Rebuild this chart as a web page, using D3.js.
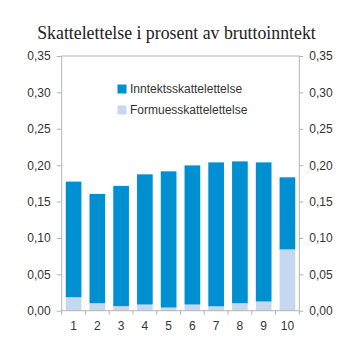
<!DOCTYPE html>
<html><head><meta charset="utf-8">
<script src="https://cdn.jsdelivr.net/npm/d3@7"></script>
<style>body{margin:0;background:#fff}svg{display:block}</style>
</head><body>
<svg id="c" width="353" height="353"></svg>
<script>
const categories = ["1","2","3","4","5","6","7","8","9","10"];
const wealthValues = [0.0185,0.0103,0.0062,0.0085,0.0044,0.0085,0.0060,0.0103,0.0126,0.0842];
const incomeValues = [0.1589,0.1502,0.1653,0.1789,0.1871,0.1912,0.1978,0.1949,0.1912,0.0991];
const seriesNames = ["Inntektsskattelettelse","Formuesskattelettelse"];
const seriesColors = ["#0090d2","#c6d8ef"];
const yTicks = [0,0.05,0.10,0.15,0.20,0.25,0.30,0.35];
const titleText = "Skattelettelse i prosent av bruttoinntekt";

const svg = d3.select("#c");
const L = 61.7, R = 299.3, T = 56, B = 310.7;
const x = d3.scaleBand().domain(categories).range([L,R]).paddingInner(0.34).paddingOuter(0.17);
const y = d3.scaleLinear().domain([0,0.35]).range([B,T]);
const fmt = d => d3.format(".2f")(d).replace(".", ",");
const axisColor = "#b3b3b3";
const textColor = "#333";

svg.append("text").attr("x",176.5).attr("y",38.5).attr("text-anchor","middle")
  .attr("font-family","Liberation Serif, Times New Roman, serif").attr("font-size",17.8)
  .attr("fill","#222").text(titleText);

// bars
const rows = categories.map((c,i)=>({c, w:wealthValues[i], inc:incomeValues[i]}));
const g = svg.append("g");
g.selectAll("rect.w").data(rows).enter().append("rect")
  .attr("x",d=>x(d.c)).attr("width",x.bandwidth())
  .attr("y",d=>y(d.w)).attr("height",d=>y(0)-y(d.w)).attr("fill",seriesColors[1]);
g.selectAll("rect.i").data(rows).enter().append("rect")
  .attr("x",d=>x(d.c)).attr("width",x.bandwidth())
  .attr("y",d=>y(d.w+d.inc)).attr("height",d=>y(d.w)-y(d.w+d.inc)).attr("fill",seriesColors[0]);

// axes
const styleAxis = (sel)=>{
  sel.selectAll(".domain").remove();
  sel.selectAll("line").attr("stroke",axisColor);
  sel.selectAll("text").attr("font-family","Liberation Sans, Arial, sans-serif").attr("font-size",12).attr("fill",textColor);
};
svg.append("g").attr("transform",`translate(${L},0)`)
  .call(d3.axisLeft(y).tickValues(yTicks).tickFormat(fmt).tickSize(5).tickPadding(6)).call(styleAxis);
svg.append("g").attr("transform",`translate(${R},0)`)
  .call(d3.axisRight(y).tickValues(yTicks).tickFormat(fmt).tickSize(4).tickPadding(6)).call(styleAxis);
svg.append("g").attr("transform",`translate(0,${B})`)
  .call(d3.axisBottom(x).tickSize(0).tickPadding(10.5)).call(styleAxis);
// category boundary ticks
const bounds = d3.range(categories.length+1).map(i=>L + i*(R-L)/categories.length);
svg.append("g").selectAll("line").data(bounds).enter().append("line")
  .attr("x1",d=>d).attr("x2",d=>d).attr("y1",B).attr("y2",B+4).attr("stroke",axisColor);
// frame
svg.append("rect").attr("x",L).attr("y",T).attr("width",R-L).attr("height",B-T)
  .attr("fill","none").attr("stroke",axisColor).attr("stroke-width",1);

// legend
const lg = svg.append("g");
seriesNames.forEach((n,i)=>{
  const yy = 89 + i*21;
  lg.append("rect").attr("x",117.5).attr("y",yy-4.5).attr("width",9).attr("height",9).attr("fill",seriesColors[i]);
  lg.append("text").attr("x",130).attr("y",yy+4.3).attr("font-family","Liberation Sans, Arial, sans-serif")
    .attr("font-size",12).attr("fill",textColor).text(n);
});
</script>
</body></html>
